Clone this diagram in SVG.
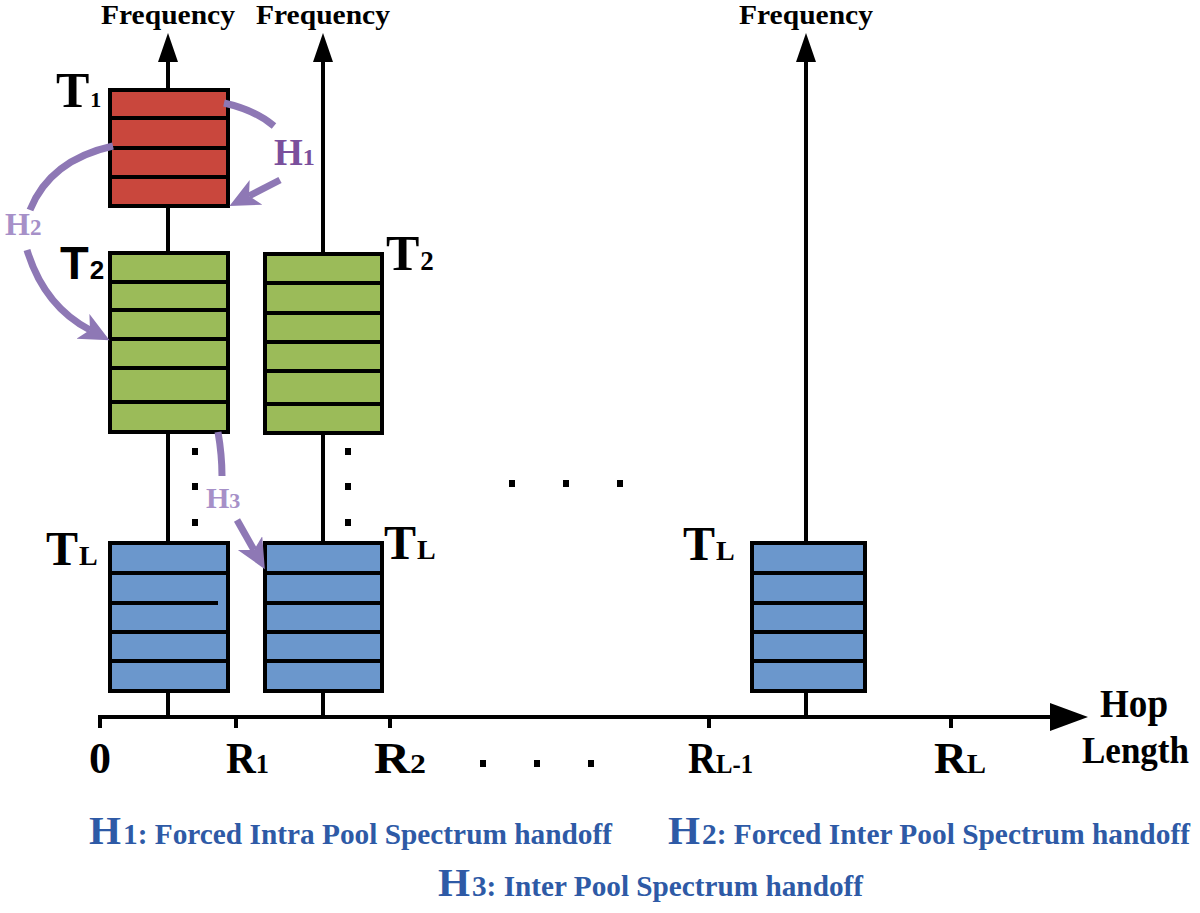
<svg xmlns="http://www.w3.org/2000/svg" width="1200" height="913" viewBox="0 0 1200 913">
<style>
.ax{stroke:#000;stroke-width:4;fill:none}
.box{stroke:#000;stroke-width:4}
.row{stroke:#000;stroke-width:4}
.red{fill:#c9473d}
.green{fill:#9bbb59}
.blue{fill:#6b97cc}
.tb{font-family:"Liberation Serif","Times New Roman",serif;font-weight:bold;fill:#000}
.ts{font-family:"Liberation Sans",Arial,sans-serif;font-weight:bold;fill:#000}
.h{stroke:#8e78b5;stroke-width:7;fill:none}
.hl{font-family:"Liberation Serif","Times New Roman",serif;font-weight:bold}
.leg{font-family:"Liberation Serif","Times New Roman",serif;font-weight:bold;fill:#2e5aa6}
.dot{fill:#000}
</style>
<defs>
<marker id="ah" markerUnits="userSpaceOnUse" markerWidth="32" markerHeight="30" refX="8" refY="14" orient="auto">
<path d="M0,0 L30,14 L0,28 L8,14 z" fill="#8e78b5"/>
</marker>
</defs>

<g id="axes">
<line class="ax" x1="168" y1="717" x2="168" y2="60"/>
<polygon points="168,33 158,62 178,62" fill="#000"/>
<line class="ax" x1="323" y1="717" x2="323" y2="60"/>
<polygon points="323,33 313,62 333,62" fill="#000"/>
<line class="ax" x1="806" y1="717" x2="806" y2="60"/>
<polygon points="806,33 796,62 816,62" fill="#000"/>
<path class="ax" d="M100,728 L100,717 L1052,717"/>
<polygon points="1088,717 1050,703 1050,731" fill="#000"/>
<line class="ax" x1="236" y1="717" x2="236" y2="728"/>
<line class="ax" x1="390" y1="717" x2="390" y2="728"/>
<line class="ax" x1="709" y1="717" x2="709" y2="728"/>
<line class="ax" x1="951" y1="717" x2="951" y2="728"/>
<text class="tb" x="101" y="24" font-size="28" textLength="134" lengthAdjust="spacingAndGlyphs">Frequency</text>
<text class="tb" x="256" y="24" font-size="28" textLength="134" lengthAdjust="spacingAndGlyphs">Frequency</text>
<text class="tb" x="739" y="24" font-size="28" textLength="134" lengthAdjust="spacingAndGlyphs">Frequency</text>
<text class="tb" x="89" y="773" font-size="44">0</text>
<text class="tb" x="226" y="773" font-size="44" textLength="43" lengthAdjust="spacingAndGlyphs">R<tspan font-size="28">1</tspan></text>
<text class="tb" x="374" y="773" font-size="44" textLength="52" lengthAdjust="spacingAndGlyphs">R<tspan font-size="28">2</tspan></text>
<text class="tb" x="688" y="773" font-size="44" textLength="65" lengthAdjust="spacingAndGlyphs">R<tspan font-size="28">L-1</tspan></text>
<text class="tb" x="934" y="773" font-size="44" textLength="52" lengthAdjust="spacingAndGlyphs">R<tspan font-size="28">L</tspan></text>
<text class="tb" x="1100" y="717" font-size="40" textLength="68" lengthAdjust="spacingAndGlyphs">Hop</text>
<text class="tb" x="1082" y="763" font-size="37" textLength="107" lengthAdjust="spacingAndGlyphs">Length</text>
<rect class="dot" x="480" y="760" width="6" height="7"/>
<rect class="dot" x="534" y="760" width="6" height="7"/>
<rect class="dot" x="588" y="760" width="6" height="7"/>
<rect class="dot" x="509" y="480" width="6" height="7"/>
<rect class="dot" x="563" y="480" width="6" height="7"/>
<rect class="dot" x="617" y="480" width="6" height="7"/>
<rect class="dot" x="192" y="448" width="6" height="7"/>
<rect class="dot" x="192" y="483" width="6" height="7"/>
<rect class="dot" x="192" y="519" width="6" height="7"/>
<rect class="dot" x="345" y="448" width="6" height="7"/>
<rect class="dot" x="345" y="483" width="6" height="7"/>
<rect class="dot" x="345" y="519" width="6" height="7"/>
</g>

<g id="pool-T1">
<rect class="box red" x="110" y="90" width="118" height="116"/>
<line class="row" x1="110" y1="118" x2="228" y2="118"/>
<line class="row" x1="110" y1="148" x2="228" y2="148"/>
<line class="row" x1="110" y1="177" x2="228" y2="177"/>
<text class="tb" x="56" y="107" font-size="50">T<tspan font-size="22" dx="1">1</tspan></text>
</g>

<g id="pool-T2-a">
<rect class="box green" x="110" y="253" width="118" height="179"/>
<line class="row" x1="110" y1="282" x2="228" y2="282"/>
<line class="row" x1="110" y1="310" x2="228" y2="310"/>
<line class="row" x1="110" y1="339" x2="228" y2="339"/>
<line class="row" x1="110" y1="368" x2="228" y2="368"/>
<line class="row" x1="110" y1="402" x2="228" y2="402"/>
<text class="ts" x="60" y="279" font-size="47">T<tspan font-size="26" dx="1">2</tspan></text>
</g>

<g id="pool-T2-b">
<rect class="box green" x="265" y="254" width="117" height="179"/>
<line class="row" x1="265" y1="283" x2="382" y2="283"/>
<line class="row" x1="265" y1="313" x2="382" y2="313"/>
<line class="row" x1="265" y1="342" x2="382" y2="342"/>
<line class="row" x1="265" y1="371" x2="382" y2="371"/>
<line class="row" x1="265" y1="404" x2="382" y2="404"/>
<text class="tb" x="386" y="270" font-size="50">T<tspan font-size="27" dx="1">2</tspan></text>
</g>

<g id="pool-TL-a">
<rect class="box blue" x="110" y="543" width="118" height="148"/>
<line class="row" x1="110" y1="573" x2="228" y2="573"/>
<line class="row" x1="110" y1="603" x2="218" y2="603"/>
<line class="row" x1="110" y1="632" x2="228" y2="632"/>
<line class="row" x1="110" y1="661" x2="228" y2="661"/>
<text class="tb" x="46" y="565" font-size="48">T<tspan font-size="28" dx="1">L</tspan></text>
</g>

<g id="pool-TL-b">
<rect class="box blue" x="265" y="543" width="117" height="148"/>
<line class="row" x1="265" y1="573" x2="382" y2="573"/>
<line class="row" x1="265" y1="603" x2="382" y2="603"/>
<line class="row" x1="265" y1="632" x2="382" y2="632"/>
<line class="row" x1="265" y1="661" x2="382" y2="661"/>
<text class="tb" x="384" y="559" font-size="48">T<tspan font-size="28" dx="1">L</tspan></text>
</g>

<g id="pool-TL-c">
<rect class="box blue" x="752" y="543" width="113" height="148"/>
<line class="row" x1="752" y1="573" x2="865" y2="573"/>
<line class="row" x1="752" y1="603" x2="865" y2="603"/>
<line class="row" x1="752" y1="632" x2="865" y2="632"/>
<line class="row" x1="752" y1="661" x2="865" y2="661"/>
<text class="tb" x="683" y="560" font-size="48">T<tspan font-size="28" dx="1">L</tspan></text>
</g>

<g id="handoffs">
<path class="h" d="M224,103 Q255,110 274,126"/>
<path class="h" d="M280,180 L249,196" marker-end="url(#ah)"/>
<text class="hl" x="274" y="165" font-size="37" fill="#7a4f9c">H<tspan font-size="24">1</tspan></text>
<path class="h" d="M113,146 Q50,160 30,210"/>
<path class="h" d="M27,250 Q44,306 90,330" marker-end="url(#ah)"/>
<text class="hl" x="5" y="235" font-size="32" fill="#a690c8">H<tspan font-size="23">2</tspan></text>
<path class="h" d="M218,432 Q222,455 222,476"/>
<path class="h" d="M237,520 L254,550" marker-end="url(#ah)"/>
<text class="hl" x="206" y="508" font-size="30" fill="#a690c8">H<tspan font-size="22">3</tspan></text>
</g>

<g id="legend">
<text class="leg" x="89" y="844" font-size="40" textLength="32" lengthAdjust="spacingAndGlyphs">H</text>
<text class="leg" x="123" y="844" font-size="29.5" textLength="489" lengthAdjust="spacingAndGlyphs">1: Forced Intra Pool Spectrum handoff</text>
<text class="leg" x="668" y="844" font-size="40" textLength="32" lengthAdjust="spacingAndGlyphs">H</text>
<text class="leg" x="702" y="844" font-size="29.5" textLength="488" lengthAdjust="spacingAndGlyphs">2: Forced Inter Pool Spectrum handoff</text>
<text class="leg" x="438" y="896" font-size="40" textLength="32" lengthAdjust="spacingAndGlyphs">H</text>
<text class="leg" x="472" y="896" font-size="29.5" textLength="391" lengthAdjust="spacingAndGlyphs">3: Inter Pool Spectrum handoff</text>
</g>
</svg>
